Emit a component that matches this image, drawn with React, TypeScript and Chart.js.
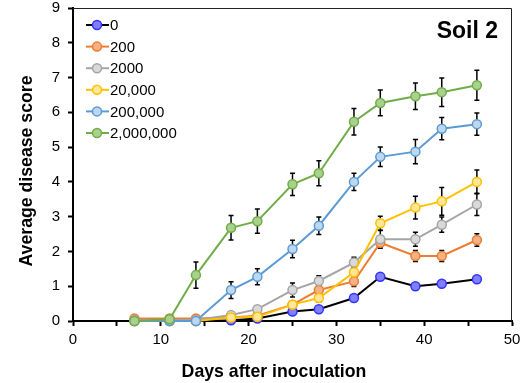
import React, { useEffect, useRef } from "react";
import { Chart, registerables } from "chart.js";

Chart.register(...registerables);

const days = [7, 11, 14, 18, 21, 25, 28, 32, 35, 39, 42, 46];
const labels = ["0", "200", "2000", "20,000", "200,000", "2,000,000"];
const s0 = [0, 0, 0, 0.02, 0.07, 0.27, 0.34, 0.66, 1.27, 1.0, 1.07, 1.2];
const s200 = [0.07, 0.07, 0.07, 0.1, 0.15, 0.47, 0.89, 1.14, 2.25, 1.87, 1.87, 2.33];
const s2000 = [0.03, 0.03, 0.03, 0.17, 0.34, 0.89, 1.15, 1.68, 2.35, 2.35, 2.77, 3.35];
const s20k = [0, 0, 0, 0.1, 0.12, 0.47, 0.66, 1.4, 2.81, 3.26, 3.44, 4.0];
const s200k = [0, 0, 0, 0.89, 1.27, 2.07, 2.74, 4.0, 4.72, 4.87, 5.53, 5.66];
const s2M = [0, 0.05, 1.32, 2.68, 2.87, 3.93, 4.25, 5.73, 6.27, 6.46, 6.58, 6.78];

const e0 = [0, 0, 0, 0, 0.03, 0.05, 0.05, 0.06, 0.08, 0.05, 0.05, 0.07];
const e200 = [0, 0, 0, 0.03, 0.05, 0.1, 0.12, 0.15, 0.15, 0.16, 0.16, 0.18];
const e2000 = [0, 0, 0, 0.05, 0.08, 0.2, 0.15, 0.15, 0.25, 0.2, 0.22, 0.32];
const e20k = [0, 0, 0, 0.03, 0.05, 0.1, 0.12, 0.2, 0.2, 0.33, 0.4, 0.34];
const e200k = [0, 0, 0, 0.24, 0.23, 0.25, 0.25, 0.25, 0.28, 0.35, 0.32, 0.32];
const e2M = [0, 0, 0.38, 0.35, 0.35, 0.32, 0.36, 0.38, 0.37, 0.38, 0.41, 0.43];

const seriesValues = [s0, s200, s2000, s20k, s200k, s2M];
const seriesErrors = [e0, e200, e2000, e20k, e200k, e2M];
const lineColors = ["#000000", "#ED7D31", "#A5A5A5", "#FFC000", "#5B9BD5", "#70AD47"];
const markerBorders = ["#3333FF", "#ED7D31", "#A5A5A5", "#FFC000", "#5B9BD5", "#70AD47"];
const markerFills = ["#8080FF", "#F4B183", "#D9D9D9", "#FFE699", "#BDD7EE", "#A9D18E"];

const yTitle = "Average disease score";
const xTitle = "Days after inoculation";
const panelLabel = "Soil 2";

const FONT = "'Liberation Sans', Arial, sans-serif";

const zeroPad = (s: any) => {
  s.paddingTop = 0;
  s.paddingBottom = 0;
  s.paddingLeft = 0;
  s.paddingRight = 0;
};

export default function App() {
  const ref = useRef<HTMLCanvasElement>(null);
  useEffect(() => {
    if (!ref.current) return;
    const errorPlugin = {
      id: "errbars",
      beforeDatasetsDraw(chart: any) {
        const ctx = chart.ctx;
        const xs = chart.scales.x;
        const ys = chart.scales.y;
        ctx.save();
        ctx.strokeStyle = "#000";
        ctx.lineWidth = 1.5;
        seriesValues.forEach((vals, si) => {
          vals.forEach((v, i) => {
            const e = seriesErrors[si][i];
            if (!e) return;
            const x = xs.getPixelForValue(days[i]);
            const y1 = ys.getPixelForValue(v + e);
            const y2 = ys.getPixelForValue(Math.max(0, v - e));
            ctx.beginPath();
            ctx.moveTo(x, y1);
            ctx.lineTo(x, y2);
            ctx.moveTo(x - 2.5, y1);
            ctx.lineTo(x + 2.5, y1);
            ctx.moveTo(x - 2.5, y2);
            ctx.lineTo(x + 2.5, y2);
            ctx.stroke();
          });
        });
        ctx.restore();
      },
      afterDraw(chart: any) {
        const ctx = chart.ctx;
        const a = chart.chartArea;
        ctx.save();
        // frame top/right
        ctx.strokeStyle = "#222";
        ctx.lineWidth = 1;
        ctx.beginPath();
        ctx.moveTo(a.left, a.top + 0.5);
        ctx.lineTo(a.right - 0.5, a.top + 0.5);
        ctx.lineTo(a.right - 0.5, a.bottom);
        ctx.stroke();
        // panel label
        ctx.fillStyle = "#000";
        ctx.font = `bold 23px ${FONT}`;
        ctx.textAlign = "right";
        ctx.textBaseline = "alphabetic";
        ctx.fillText(panelLabel, 498, 38);
        // legend
        ctx.font = `15px ${FONT}`;
        ctx.textAlign = "left";
        ctx.textBaseline = "middle";
        labels.forEach((lab, i) => {
          const y = 25 + i * 21.6;
          ctx.strokeStyle = lineColors[i];
          ctx.lineWidth = 2;
          ctx.beginPath();
          ctx.moveTo(86, y);
          ctx.lineTo(109, y);
          ctx.stroke();
          ctx.beginPath();
          ctx.arc(97, y, 4.5, 0, Math.PI * 2);
          ctx.fillStyle = markerFills[i];
          ctx.fill();
          ctx.strokeStyle = markerBorders[i];
          ctx.lineWidth = 1.5;
          ctx.stroke();
          ctx.fillStyle = "#000";
          ctx.fillText(lab, 110, y + 1);
        });
        // axis titles
        ctx.font = `bold 17.7px ${FONT}`;
        ctx.textAlign = "center";
        ctx.textBaseline = "alphabetic";
        ctx.fillText(xTitle, 274, 377);
        ctx.translate(32, 171);
        ctx.rotate(-Math.PI / 2);
        ctx.fillText(yTitle, 0, 0);
        ctx.restore();
      },
    };

    const chart = new Chart(ref.current, {
      type: "line",
      data: {
        datasets: seriesValues.map((vals, i) => ({
          label: labels[i],
          data: vals.map((v, j) => ({ x: days[j], y: v })),
          borderColor: lineColors[i],
          borderWidth: 2,
          pointRadius: 4.5,
          pointBorderWidth: 1.5,
          pointBackgroundColor: markerFills[i],
          pointBorderColor: markerBorders[i],
          tension: 0,
          order: 6 - i,
          clip: false as any,
        })),
      },
      options: {
        responsive: false,
        animation: false,
        layout: { padding: { top: 8, right: 9, left: 0, bottom: 0 } },
        plugins: { legend: { display: false }, tooltip: { enabled: false } },
        scales: {
          x: {
            type: "linear",
            min: 0,
            max: 50,
            afterFit: (s: any) => { s.height = 62; zeroPad(s); },
            ticks: {
              stepSize: 5,
              color: "#000",
              font: { family: FONT, size: 15 },
              padding: 5,
              maxRotation: 0,
              callback: (v: any) => (Number(v) % 10 === 0 ? String(v) : ""),
            },
            grid: { drawOnChartArea: false, tickLength: 5, tickColor: "#000", tickWidth: 2 },
            border: { color: "#000", width: 2 },
          },
          y: {
            min: 0,
            max: 9,
            afterFit: (s: any) => { s.width = 73; zeroPad(s); },
            ticks: {
              stepSize: 1,
              color: "#000",
              font: { family: FONT, size: 15 },
              padding: 8,
            },
            grid: { drawOnChartArea: false, tickLength: 5, tickColor: "#000", tickWidth: 2 },
            border: { color: "#000", width: 2 },
          },
        },
      },
      plugins: [errorPlugin],
    });
    return () => chart.destroy();
  }, []);

  return (
    <div style={{ position: "fixed", left: 0, top: 0, width: 521, height: 383, background: "#fff" }}>
      <canvas ref={ref} width={521} height={383} />
    </div>
  );
}
